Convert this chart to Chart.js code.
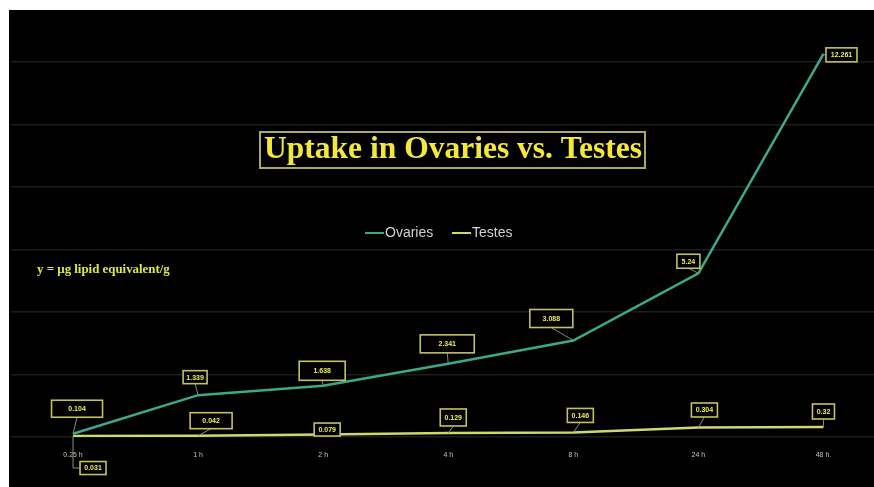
<!DOCTYPE html>
<html>
<head>
<meta charset="utf-8">
<script src="https://cdn.jsdelivr.net/npm/chart.js@4.4.0/dist/chart.umd.min.js"></script>
<style>
  html, body { margin: 0; padding: 0; background: #ffffff; width: 874px; height: 487px; overflow: hidden; }
  #clip { position: absolute; left: 9px; top: 10px; width: 865px; height: 477px; overflow: hidden; background: #000; }
  #wrap { position: absolute; left: -9px; top: -30px; width: 900px; height: 520px; }
</style>
</head>
<body>
<div id="clip"><div id="wrap"><canvas id="c" width="900" height="520"></canvas></div></div>
<script>
// ---- data ----
const categories = ['0.25 h', '1 h', '2 h', '4 h', '8 h', '24 h', '48 h.'];
const ovaries = [0.104, 1.339, 1.638, 2.341, 3.088, 5.24, 12.261];
const testes  = [0.031, 0.042, 0.079, 0.129, 0.146, 0.304, 0.32];
const seriesNames = ['Ovaries', 'Testes'];
const titleText = 'Uptake in Ovaries vs. Testes';
const unitText = 'y = \u00b5g lipid equivalent/g';

// ---- label box placement (offsets from point, box sizes) ----
const ovLabelDx = [4, -3, -1, -1, -22, -10, 18];
const ovLabelDy = [-25, -18, -15, -20, -22, -12, 1];
const ovLabelW  = [51, 24, 46, 54, 43, 23, 31];
const ovLabelH  = [17, 13, 19, 18, 18, 14, 14];
const teLabelDx = [20, 13, 4, 5, 7, 6, 0];
const teLabelDy = [32, -15, -5, -15.5, -17, -17.5, -15.5];
const teLabelW  = [26, 42, 26, 26, 26, 26, 22];
const teLabelH  = [13, 16, 13, 17, 14, 14, 15];

const OY = 20; // canvas y = page y + OY

const labelPlugin = {
  id: 'labels',
  afterDatasetsDraw(chart) {
    const ctx = chart.ctx;
    const sets = [
      {dx: ovLabelDx, dy: ovLabelDy, w: ovLabelW, h: ovLabelH, vals: ovaries},
      {dx: teLabelDx, dy: teLabelDy, w: teLabelW, h: teLabelH, vals: testes}
    ];
    sets.forEach((s, di) => {
      const meta = chart.getDatasetMeta(di);
      meta.data.forEach((pt, i) => {
        const cx = pt.x + s.dx[i], cy = pt.y + s.dy[i];
        const w = s.w[i], h = s.h[i];
        ctx.save();
        ctx.strokeStyle = '#8a8a80';
        ctx.lineWidth = 1;
        ctx.beginPath();
        if (s.dy[i] > 0) {
          ctx.moveTo(pt.x, pt.y);
          ctx.lineTo(pt.x, cy);
          ctx.lineTo(cx - w / 2, cy);
        } else if (Math.abs(s.dy[i]) > h / 2 + 2) {
          ctx.moveTo(pt.x, pt.y);
          ctx.lineTo(cx, cy + h / 2);
        } else if (s.dx[i] > w / 2) {
          ctx.moveTo(pt.x, pt.y);
          ctx.lineTo(cx - w / 2, cy);
        }
        ctx.stroke();
        ctx.fillStyle = '#000';
        ctx.fillRect(cx - w / 2, cy - h / 2, w, h);
        ctx.strokeStyle = '#c2c260';
        ctx.lineWidth = 1.6;
        ctx.strokeRect(cx - w / 2, cy - h / 2, w, h);
        ctx.fillStyle = '#eeee50';
        ctx.font = 'bold 7px "Liberation Sans", sans-serif';
        ctx.textAlign = 'center';
        ctx.textBaseline = 'middle';
        ctx.fillText(String(s.vals[i]), cx, cy + 0.5);
        ctx.restore();
      });
    });
  },
  afterDraw(chart) {
    const ctx = chart.ctx;
    ctx.save();
    let fs = 30;
    ctx.font = 'bold ' + fs + 'px "Liberation Serif", serif';
    const tw = ctx.measureText(titleText).width;
    fs = fs * 378 / tw;
    ctx.font = 'bold ' + fs.toFixed(2) + 'px "Liberation Serif", serif';
    ctx.fillStyle = '#000';
    ctx.fillRect(260, 132 + OY, 385, 36);
    ctx.strokeStyle = '#a9a960';
    ctx.lineWidth = 2;
    ctx.strokeRect(260, 132 + OY, 385, 36);
    ctx.fillStyle = '#f4e73c';
    ctx.textAlign = 'center';
    ctx.textBaseline = 'alphabetic';
    ctx.fillText(titleText, 453, 158 + OY);

    const colors = chart.data.datasets.map(d => d.borderColor);
    ctx.font = '14px "Liberation Sans", sans-serif';
    ctx.textBaseline = 'middle';
    ctx.textAlign = 'left';
    const lx = [365, 452];
    chart.data.datasets.forEach((d, i) => {
      ctx.strokeStyle = colors[i];
      ctx.lineWidth = 2;
      ctx.beginPath();
      ctx.moveTo(lx[i], 233 + OY);
      ctx.lineTo(lx[i] + 19, 233 + OY);
      ctx.stroke();
      ctx.fillStyle = '#d0d0d0';
      ctx.fillText(d.label, lx[i] + 20, 233 + OY);
    });

    let us = 11;
    ctx.font = 'bold ' + us + 'px "Liberation Serif", serif';
    const uw = ctx.measureText(unitText).width;
    us = us * 133 / uw;
    ctx.font = 'bold ' + us.toFixed(2) + 'px "Liberation Serif", serif';
    ctx.fillStyle = '#e4e83c';
    ctx.textBaseline = 'alphabetic';
    ctx.fillText(unitText, 37, 273 + OY);
    ctx.restore();
  }
};

new Chart(document.getElementById('c'), {
  type: 'line',
  data: {
    labels: categories,
    datasets: [
      { label: seriesNames[0], data: ovaries, borderColor: '#3aa98b', borderWidth: 2.5, pointRadius: 0, tension: 0 },
      { label: seriesNames[1], data: testes, borderColor: '#cfd86c', borderWidth: 2.5, pointRadius: 0, tension: 0 }
    ]
  },
  options: {
    responsive: false,
    animation: false,
    layout: { padding: { left: 10.5, right: 14, top: 19.5, bottom: 43 } },
    plugins: { legend: { display: false }, tooltip: { enabled: false }, title: { display: false } },
    scales: {
      x: {
        offset: true,
        grid: { display: false },
        border: { display: false },
        ticks: { color: '#c4c4c4', font: { size: 7, family: '"Liberation Sans", sans-serif' }, padding: 6, maxRotation: 0, autoSkip: false },
        afterFit(s) { s.height = 20; }
      },
      y: {
        min: 0, max: 14,
        ticks: { display: false, stepSize: 2 },
        grid: { color: '#1d1d1d', lineWidth: 1.5, drawTicks: false },
        border: { display: false },
        afterFit(s) { s.width = 0; }
      }
    }
  },
  plugins: [labelPlugin]
});
</script>
</body>
</html>
